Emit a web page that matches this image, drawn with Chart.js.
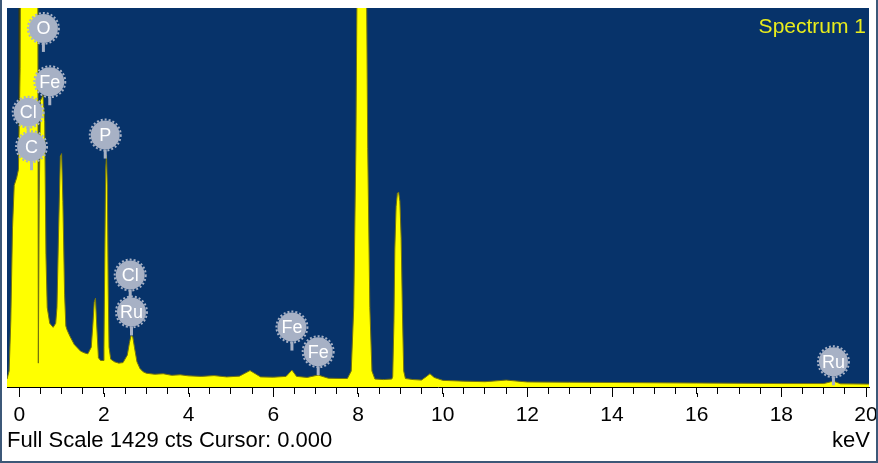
<!DOCTYPE html>
<html>
<head>
<meta charset="utf-8">
<script src="https://cdn.jsdelivr.net/npm/chart.js@4.4.0/dist/chart.umd.min.js"></script>
<style>
  html, body { margin: 0; padding: 0; background: #fff; }
  #wrap { position: relative; width: 878px; height: 463px; }
</style>
</head>
<body>
<div id="wrap"><canvas id="spectrum-chart" width="878" height="463"></canvas></div>
<script>
// --- spectrum (keV / counts) ---
const spectrumKeV = [
  -0.29, -0.24, -0.2, -0.16, -0.12, -0.06, -0.02, 0.02, 0.05, 0.1, 0.2, 0.3, 0.38, 0.43, 0.45, 0.47,
  0.5, 0.56, 0.6, 0.63, 0.66, 0.72, 0.8, 0.86, 0.89, 0.93, 0.97, 1.0, 1.03, 1.07, 1.1, 1.13,
  1.2, 1.3, 1.36, 1.45, 1.55, 1.62, 1.7, 1.74, 1.77, 1.8, 1.83, 1.87, 1.92, 1.98, 2.0, 2.02,
  2.04, 2.06, 2.08, 2.1, 2.12, 2.16, 2.25, 2.35, 2.45, 2.55, 2.6, 2.64, 2.68, 2.72, 2.78, 2.85,
  2.92, 3.0, 3.2, 3.4, 3.6, 3.8, 4.0, 4.3, 4.6, 4.9, 5.2, 5.45, 5.7, 6.0, 6.3, 6.44,
  6.55, 6.8, 7.06, 7.3, 7.6, 7.75, 7.84, 7.9, 7.95, 8.0, 8.09, 8.18, 8.23, 8.28, 8.33, 8.4,
  8.6, 8.8, 8.82, 8.85, 8.87, 8.9, 8.93, 8.96, 8.99, 9.02, 9.05, 9.08, 9.12, 9.3, 9.5, 9.62,
  9.7, 9.8, 10.0, 10.5, 11.0, 11.5, 12.0, 13.0, 14.0, 15.0, 16.0, 17.0, 18.0, 19.0, 19.23, 19.4,
  20.07
];
const spectrumCounts = [
  30, 60, 250, 600, 760, 790, 820, 1200, 2600, 3000, 3200, 3400, 3000, 2600, 90, 700,
  1080, 1100, 1000, 500, 300, 240, 225, 240, 300, 600, 870, 880, 700, 350, 230, 215,
  190, 160, 150, 135, 128, 125, 150, 240, 320, 335, 230, 110, 100, 100, 150, 500,
  820, 875, 760, 380, 150, 105, 95, 90, 92, 120, 165, 194, 190, 150, 95, 70,
  58, 52, 48, 50, 44, 46, 42, 40, 43, 38, 41, 62, 38, 37, 40, 64,
  40, 36, 45, 33, 32, 32, 60, 300, 900, 2000, 3000, 2000, 900, 300, 60, 30,
  28, 30, 40, 250, 520, 680, 730, 735, 700, 560, 280, 60, 32, 28, 26, 40,
  50, 36, 25, 22, 20, 26, 19, 18, 17, 16, 15, 14, 13, 13, 22, 12,
  11
];

// element markers: line energy (keV) and the count level the tag sits at
const tagElements = ['O', 'Fe', 'Cl', 'C', 'P', 'Cl', 'Ru', 'Fe', 'Fe', 'Ru'];
const tagKeV      = [0.57, 0.72, 0.21, 0.29, 2.03, 2.62, 2.65, 6.44, 7.06, 19.23];
const tagCounts   = [1352, 1151, 1036, 906, 950, 422, 283, 226, 133, 95];

const xTickLabels = [0, 2, 4, 6, 8, 10, 12, 14, 16, 18, 20];
const fullScale = 1429;
const cursorKeV = 0.0;

const NAVY = '#07336a';
const TAG_GREY = '#a7b1c5';
const FONT = "'Liberation Sans', Arial, sans-serif";

const spectrumPoints = spectrumKeV.map((e, i) => ({ x: e, y: spectrumCounts[i] }));

// background, longer major ticks, element tags and captions
const decorPlugin = {
  id: 'decor',
  beforeDatasetsDraw(chart) {
    const { ctx, chartArea: a } = chart;
    ctx.save();
    ctx.fillStyle = NAVY;
    ctx.fillRect(a.left, a.top, a.right - a.left, a.bottom - a.top);
    ctx.restore();
  },
  afterDraw(chart) {
    const { ctx, chartArea: a } = chart;
    const xs = chart.scales.x, ys = chart.scales.y;
    ctx.save();

    // longer ticks under the labelled values
    ctx.strokeStyle = '#000';
    ctx.lineWidth = 1;
    xTickLabels.forEach(v => {
      const px = Math.round(xs.getPixelForValue(v)) + 0.5;
      ctx.beginPath();
      ctx.moveTo(px, a.bottom + 6);
      ctx.lineTo(px, a.bottom + 10);
      ctx.stroke();
    });

    // element tags
    ctx.beginPath();
    ctx.rect(a.left, a.top, a.right - a.left, a.bottom - a.top);
    ctx.clip();
    tagElements.forEach((el, i) => {
      const cx = xs.getPixelForValue(tagKeV[i]);
      const cy = ys.getPixelForValue(tagCounts[i]);
      const r = 14.5;
      ctx.strokeStyle = TAG_GREY;
      ctx.lineWidth = 3;
      ctx.beginPath();
      ctx.moveTo(cx, cy + r);
      ctx.lineTo(cx, cy + r + 9);
      ctx.stroke();
      ctx.fillStyle = TAG_GREY;
      ctx.beginPath();
      ctx.arc(cx, cy, r, 0, Math.PI * 2);
      ctx.fill();
      ctx.setLineDash([2, 2]);
      ctx.lineWidth = 2;
      ctx.beginPath();
      ctx.arc(cx, cy, r + 1, 0, Math.PI * 2);
      ctx.stroke();
      ctx.setLineDash([]);
      ctx.fillStyle = '#ffffff';
      ctx.font = '18px ' + FONT;
      ctx.textAlign = 'center';
      ctx.textBaseline = 'middle';
      ctx.fillText(el, cx, cy + 1);
    });
    ctx.restore();

    ctx.save();
    ctx.fillStyle = '#e8ec1c';
    ctx.font = '21px ' + FONT;
    ctx.textAlign = 'right';
    ctx.textBaseline = 'alphabetic';
    ctx.fillText('Spectrum 1', a.right - 3, 33);

    ctx.fillStyle = '#000';
    ctx.font = '22px ' + FONT;
    ctx.textAlign = 'left';
    ctx.fillText('Full Scale ' + fullScale + ' cts Cursor: ' + cursorKeV.toFixed(3), 7, 447);
    ctx.textAlign = 'right';
    ctx.fillText('keV', a.right + 1, 447);

    // thin frame round the picture
    ctx.strokeStyle = '#3c5878';
    ctx.lineWidth = 2;
    ctx.beginPath();
    ctx.moveTo(1, 0);
    ctx.lineTo(1, chart.height - 1);
    ctx.lineTo(chart.width - 1, chart.height - 1);
    ctx.lineTo(chart.width - 1, 0);
    ctx.stroke();
    ctx.restore();
  }
};

const ctx = document.getElementById('spectrum-chart').getContext('2d');
new Chart(ctx, {
  type: 'line',
  data: {
    datasets: [
      {
        label: 'Spectrum 1',
        data: spectrumPoints,
        fill: 'origin',
        backgroundColor: '#ffff00',
        borderColor: '#74740e',
        borderWidth: 1,
        pointRadius: 0,
        tension: 0,
        clip: 0
      },
      {
        label: 'Cursor',
        data: [{ x: cursorKeV, y: 0 }, { x: cursorKeV, y: fullScale }],
        borderColor: '#3a3a08',
        borderWidth: 1.5,
        pointRadius: 0,
        fill: false,
        clip: 0
      }
    ]
  },
  options: {
    responsive: false,
    animation: false,
    devicePixelRatio: 1,
    layout: { padding: { left: 7, right: 9, top: 8, bottom: 36 } },
    plugins: { legend: { display: false }, tooltip: { enabled: false } },
    scales: {
      x: {
        type: 'linear',
        min: -0.29,
        max: 20.07,
        afterBuildTicks(scale) {
          // a tick every 0.5 keV from 0 to 20
          scale.ticks = [];
          for (let v = 0; v <= 40; v++) scale.ticks.push({ value: v / 2 });
        },
        afterFit(scale) {
          scale.height = 40;
          scale.paddingLeft = 0;
          scale.paddingRight = 0;
        },
        grid: { drawOnChartArea: false, drawTicks: true, tickLength: 7, color: '#000', lineWidth: 1 },
        border: { display: true, color: '#000', width: 1 },
        ticks: {
          autoSkip: false,
          maxRotation: 0,
          color: '#000',
          padding: 9,
          font: { family: FONT, size: 21 },
          callback: v => (xTickLabels.includes(v) ? String(v) : '')
        }
      },
      y: { display: false, min: 0, max: fullScale }
    }
  },
  plugins: [decorPlugin]
});
</script>
</body>
</html>
